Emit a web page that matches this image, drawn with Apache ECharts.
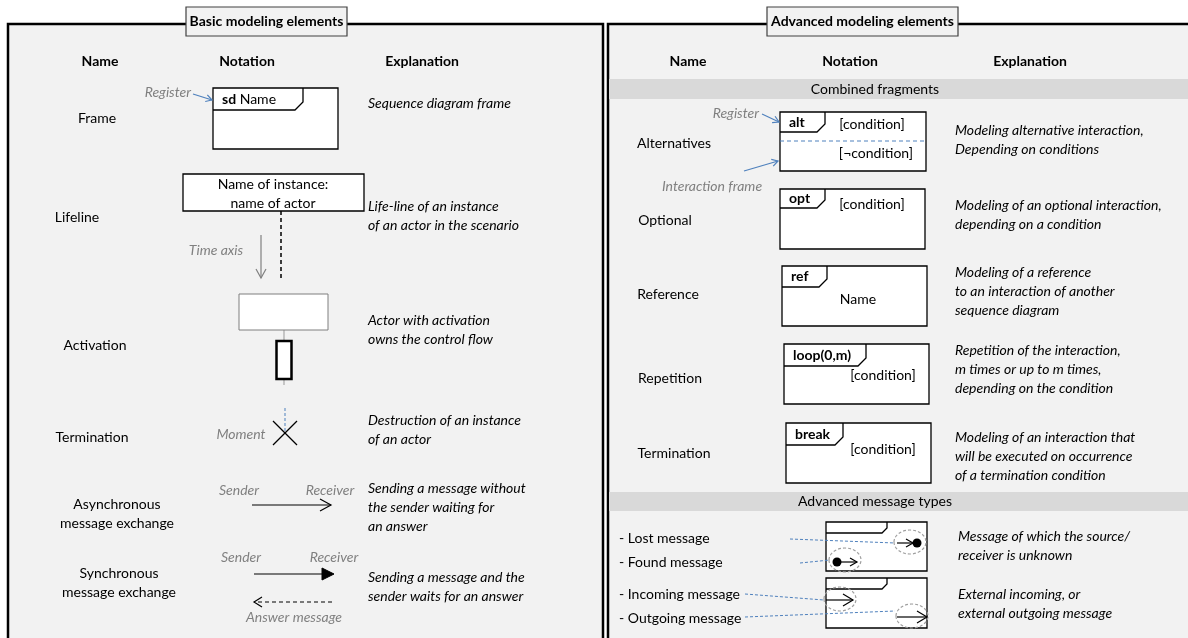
<!DOCTYPE html>
<html>
<head>
<meta charset="utf-8">
<script src="https://cdn.jsdelivr.net/npm/echarts@6/dist/echarts.min.js"></script>
<style>
  html, body { margin: 0; padding: 0; background: #fff; }
  #chart { width: 1188px; height: 638px; }
</style>
</head>
<body>
<div id="chart"></div>
<script>
// ---- content ----
const panelTitles = ['Basic modeling elements', 'Advanced modeling elements'];
const headers = ['Name', 'Notation', 'Explanation'];
const bandTitles = ['Combined fragments', 'Advanced message types'];

const basicNames = ['Frame', 'Lifeline', 'Activation', 'Termination',
  'Asynchronous\nmessage exchange', 'Synchronous\nmessage exchange'];
const basicExplanations = [
  'Sequence diagram frame',
  'Life-line of an instance\nof an actor in the scenario',
  'Actor with activation\nowns the control flow',
  'Destruction of an instance\nof an actor',
  'Sending a message without\nthe sender waiting for\nan answer',
  'Sending a message and the\nsender waits for an answer'
];

const advancedNames = ['Alternatives', 'Optional', 'Reference', 'Repetition', 'Termination'];
const fragmentOperators = ['alt', 'opt', 'ref', 'loop(0,m)', 'break'];
const fragmentTexts = ['[condition]', '[condition]', 'Name', '[condition]', '[condition]'];
const advancedExplanations = [
  'Modeling alternative interaction,\nDepending on conditions',
  'Modeling of an optional interaction,\ndepending on a condition',
  'Modeling of a reference\nto an interaction of another\nsequence diagram',
  'Repetition of the interaction,\nm times or up to m times,\ndepending on the condition',
  'Modeling of an interaction that\nwill be executed on occurrence\nof a termination condition'
];

const messageNames = ['- Lost message', '- Found message', '- Incoming message', '- Outgoing message'];
const messageExplanations = ['Message of which the source/\nreceiver is unknown',
  'External incoming, or\nexternal outgoing message'];

// ---- layout (pixel units of the hidden axes) ----
const layout = {
  headerY: 61,
  panels: [
    { x0: 8, x1: 603, tx0: 186, tx1: 347, cols: [100, 247, 422] },
    { x0: 608, x1: 1200, tx0: 767, tx1: 958, cols: [688, 850, 1030] }
  ],
  bands: [{ y0: 79, y1: 99, cx: 875 }, { y0: 492, y1: 511, cx: 875 }],
  basicName: [[97, 118], [77, 217], [95, 345], [92, 437], [117, 514], [119, 583]],
  basicExplX: 368,
  basicExplY: [103, 215.5, 329.5, 429.5, 507, 587],
  fragName: [[674, 143], [665, 220], [668, 294], [670, 378], [674, 453]],
  fragBox: [
    [780, 112, 926, 171, 45, 20], [780, 189, 925, 249, 45, 19], [782, 266, 927, 326, 45, 21],
    [784, 344, 929, 404, 82, 22], [786, 423, 931, 483, 57, 22]
  ],
  fragText: [[872, 124], [872, 204], [858, 299], [883, 375], [883, 449]],
  fragExplX: 955,
  fragExplY: [140, 214.5, 291, 369, 456],
  msgNameX: 619,
  msgNameY: [538, 562, 594, 618],
  msgBox: [[826, 522, 927, 571], [826, 578, 927, 628]],
  msgExplX: 958,
  msgExplY: [546, 604]
};

const COL = { text: '#000', gray: '#808080', blue: '#4f81bd', panel: '#f2f2f2', band: '#d9d9d9' };
const FONT = 'Lato, "Open Sans", sans-serif';

// ---- drawing helpers ----
function T(api, x, y, text, o) {
  const p = api.coord([x, y]);
  return { type: 'text', x: p[0], y: p[1], style: Object.assign({
    text: text, fill: COL.text, fontFamily: FONT, fontSize: 14, lineHeight: 19,
    align: 'center', verticalAlign: 'middle' }, o || {}) };
}
function L(api, x1, y1, x2, y2, o) {
  const a = api.coord([x1, y1]), b = api.coord([x2, y2]);
  return { type: 'line', shape: { x1: a[0], y1: a[1], x2: b[0], y2: b[1] },
    style: Object.assign({ stroke: COL.text, lineWidth: 1 }, o || {}) };
}
function R(api, x0, y0, x1, y1, o) {
  const a = api.coord([x0, y0]), b = api.coord([x1, y1]);
  return { type: 'rect', shape: { x: a[0], y: a[1], width: b[0] - a[0], height: b[1] - a[1] },
    style: Object.assign({ fill: '#fff', stroke: COL.text, lineWidth: 1 }, o || {}) };
}
function PL(api, pts, o, closed) {
  return { type: closed ? 'polygon' : 'polyline', shape: { points: pts.map(function (p) { return api.coord(p); }) },
    style: Object.assign({ fill: closed ? COL.text : null, stroke: COL.text, lineWidth: 1 }, o || {}) };
}
function EL(api, cx, cy, rx, ry) {
  const c = api.coord([cx, cy]);
  return { type: 'ellipse', shape: { cx: c[0], cy: c[1], rx: rx, ry: ry },
    style: { fill: null, stroke: '#a0a0a0', lineWidth: 1.2, lineDash: [3, 2] } };
}
function DOT(api, cx, cy, r) {
  const c = api.coord([cx, cy]);
  return { type: 'circle', shape: { cx: c[0], cy: c[1], r: r }, style: { fill: COL.text } };
}
// arrow from (x1,y1) to (x2,y2); head: 'open' (default) or 'filled'
function ARROW(api, x1, y1, x2, y2, o) {
  o = o || {};
  const color = o.color || COL.text, size = o.size || 9, wide = o.wide || 5;
  const dx = x2 - x1, dy = y2 - y1, len = Math.sqrt(dx * dx + dy * dy);
  const ux = dx / len, uy = dy / len, nx = -uy, ny = ux;
  const bx = x2 - ux * size, by = y2 - uy * size;
  const out = [];
  const end = o.head === 'filled' ? [bx, by] : [x2, y2];
  out.push(L(api, x1, y1, end[0], end[1], { stroke: color, lineWidth: o.lw || 1.2, lineDash: o.dash || null }));
  if (o.head === 'filled') {
    out.push(PL(api, [[x2, y2], [bx + nx * wide, by + ny * wide], [bx - nx * wide, by - ny * wide]], { fill: color, stroke: color }, true));
  } else {
    out.push(PL(api, [[bx + nx * wide, by + ny * wide], [x2, y2], [bx - nx * wide, by - ny * wide]], { stroke: color, lineWidth: o.lw || 1.2 }));
  }
  return out;
}
// interaction frame with its pentagon tab in the upper left corner
function FRAG(api, b, cut) {
  const x0 = b[0], y0 = b[1], x1 = b[2], y1 = b[3], tw = b[4], th = b[5];
  cut = cut || 8;
  return [
    R(api, x0, y0, x1, y1, { lineWidth: 1.3 }),
    PL(api, [[x0, y0 + th], [x0 + tw - cut, y0 + th], [x0 + tw, y0 + th - cut], [x0 + tw, y0]], { lineWidth: 1.3 })
  ];
}
const grayItalic = { fill: COL.gray, fontStyle: 'italic' };
const italicLeft = { fontStyle: 'italic', align: 'left' };

// ---- render functions ----
function renderPanel(params, api) {
  const i = params.dataIndex, p = layout.panels[i];
  const ch = [];
  ch.push(R(api, p.x0, 24, p.x1, 660, { fill: COL.panel, stroke: COL.text, lineWidth: 2.5 }));
  ch.push(R(api, p.tx0, 7, p.tx1, 36, { fill: COL.panel, stroke: '#404040', lineWidth: 1.2 }));
  ch.push(T(api, (p.tx0 + p.tx1) / 2, 21.5, panelTitles[i], { fontWeight: 'bold' }));
  headers.forEach(function (h, k) { ch.push(T(api, p.cols[k], layout.headerY, h, { fontWeight: 'bold' })); });
  return { type: 'group', children: ch };
}

function renderBand(params, api) {
  const i = params.dataIndex, b = layout.bands[i];
  return { type: 'group', children: [
    R(api, 609, b.y0, 1188, b.y1, { fill: COL.band, stroke: null, lineWidth: 0 }),
    T(api, b.cx, (b.y0 + b.y1) / 2, bandTitles[i])
  ] };
}

function renderBasic(params, api) {
  const i = params.dataIndex;
  const n = layout.basicName[i];
  let ch = [T(api, n[0], n[1], basicNames[i]),
    T(api, layout.basicExplX, layout.basicExplY[i], basicExplanations[i], italicLeft)];
  if (i === 0) {
    ch = ch.concat(FRAG(api, [213, 88, 338, 149, 90, 22]));
    ch.push(T(api, 222, 99.5, '{b|sd} Name', { align: 'left', rich: { b: { fontWeight: 'bold', fontFamily: FONT, fontSize: 14 } } }));
    ch.push(T(api, 191, 92, 'Register', Object.assign({ align: 'right' }, grayItalic)));
    ch = ch.concat(ARROW(api, 193, 94, 212, 100, { color: COL.blue, size: 6, wide: 3.5 }));
  } else if (i === 1) {
    ch.push(R(api, 183, 174, 364, 211, { lineWidth: 1.3 }));
    ch.push(T(api, 273, 193.5, 'Name of instance:\nname of actor'));
    ch.push(L(api, 281, 211, 281, 279, { lineWidth: 1.5, lineDash: [4, 3] }));
    ch.push(T(api, 216, 250, 'Time axis', grayItalic));
    ch = ch.concat(ARROW(api, 261, 235, 261, 278, { color: COL.gray, size: 9, wide: 5 }));
  } else if (i === 2) {
    ch.push(L(api, 284, 330, 284, 385, { stroke: '#999', lineWidth: 1 }));
    ch.push(R(api, 239, 294, 328, 330, { stroke: '#7f7f7f', lineWidth: 1 }));
    ch.push(R(api, 276.5, 341, 291.5, 379, { lineWidth: 2.5 }));
  } else if (i === 3) {
    ch.push(L(api, 285, 408, 285, 433, { stroke: COL.blue, lineDash: [3, 2] }));
    ch.push(L(api, 273, 421, 297, 445, { lineWidth: 1.2 }));
    ch.push(L(api, 297, 421, 273, 445, { lineWidth: 1.2 }));
    ch.push(T(api, 241, 434, 'Moment', grayItalic));
  } else if (i === 4) {
    ch.push(T(api, 239, 490, 'Sender', grayItalic));
    ch.push(T(api, 330, 490, 'Receiver', grayItalic));
    ch = ch.concat(ARROW(api, 252, 505, 331, 505, { size: 11, wide: 6 }));
  } else if (i === 5) {
    ch.push(T(api, 241, 557, 'Sender', grayItalic));
    ch.push(T(api, 334, 557, 'Receiver', grayItalic));
    ch = ch.concat(ARROW(api, 254, 574, 334, 574, { head: 'filled', size: 12, wide: 6 }));
    ch = ch.concat(ARROW(api, 332, 602, 254, 602, { size: 8, wide: 5, dash: [4, 3] }));
    ch.push(T(api, 294, 617, 'Answer message', grayItalic));
  }
  return { type: 'group', children: ch };
}

function renderFragment(params, api) {
  const i = params.dataIndex;
  const n = layout.fragName[i], b = layout.fragBox[i], t = layout.fragText[i];
  let ch = [T(api, n[0], n[1], advancedNames[i]),
    T(api, layout.fragExplX, layout.fragExplY[i], advancedExplanations[i], italicLeft)];
  ch = ch.concat(FRAG(api, b));
  ch.push(T(api, b[0] + 9, b[1] + b[5] / 2, fragmentOperators[i], { align: 'left', fontWeight: 'bold' }));
  ch.push(T(api, t[0], t[1], fragmentTexts[i]));
  if (i === 0) {
    ch.push(L(api, b[0], 141, b[2], 141, { stroke: COL.blue, lineDash: [4, 3] }));
    ch.push(T(api, 913, 153, '[\u00accondition]', { align: 'right' }));
    ch.push(T(api, 759, 113, 'Register', Object.assign({ align: 'right' }, grayItalic)));
    ch = ch.concat(ARROW(api, 762, 114, 779, 122, { color: COL.blue, size: 6, wide: 3.5 }));
    ch.push(T(api, 712, 186, 'Interaction frame', grayItalic));
    ch = ch.concat(ARROW(api, 744, 171, 778, 161, { color: COL.blue, size: 6, wide: 3.5 }));
  }
  return { type: 'group', children: ch };
}

function renderMessage(params, api) {
  const i = params.dataIndex;
  let ch = [T(api, layout.msgNameX, layout.msgNameY[i], messageNames[i], { align: 'left' })];
  const blue = { stroke: COL.blue, lineDash: [3, 2] };
  const x0 = layout.msgBox[0][0], x1 = layout.msgBox[0][2];
  if (i % 2 === 0) {
    const b = layout.msgBox[i / 2];
    ch.push(R(api, b[0], b[1], b[2], b[3], { lineWidth: 1.3 }));
    ch.push(PL(api, [[b[0], b[1] + 11], [b[0] + 56, b[1] + 11], [b[0] + 61, b[1] + 6], [b[0] + 61, b[1]]], { lineWidth: 1.3 }));
    ch.push(T(api, layout.msgExplX, layout.msgExplY[i / 2], messageExplanations[i / 2], italicLeft));
  }
  if (i === 0) {
    ch.push(L(api, 790, 539, x1 - 32, 543, blue));
    ch.push(EL(api, x1 - 17, 542, 16, 12));
    ch = ch.concat(ARROW(api, x1 - 30, 543, x1 - 14, 543, { size: 7, wide: 4 }));
    ch.push(DOT(api, x1 - 10, 543, 4.5));
  } else if (i === 1) {
    ch.push(L(api, 800, 563, x0 + 4, 560, blue));
    ch.push(EL(api, x0 + 19, 560, 16, 12));
    ch.push(DOT(api, x0 + 11, 562, 4.5));
    ch = ch.concat(ARROW(api, x0 + 13, 562, x0 + 31, 562, { size: 7, wide: 4 }));
  } else if (i === 2) {
    ch.push(L(api, 745, 594, x0 - 2, 600, blue));
    ch.push(EL(api, x0 + 14, 599, 16, 12));
    ch = ch.concat(ARROW(api, x0, 600, x0 + 27, 600, { size: 10, wide: 6 }));
  } else if (i === 3) {
    ch.push(L(api, 745, 617, x1 - 32, 611, blue));
    ch.push(EL(api, x1 - 15, 616, 16, 12));
    ch = ch.concat(ARROW(api, x1 - 30, 617, x1, 617, { size: 10, wide: 6 }));
  }
  return { type: 'group', children: ch };
}

function indices(arr) { return arr.map(function (_, k) { return [k]; }); }

const options = {
  animation: false,
  backgroundColor: '#fff',
  grid: { left: 0, right: 0, top: 0, bottom: 0 },
  xAxis: { type: 'value', min: 0, max: 1188, show: false },
  yAxis: { type: 'value', min: 0, max: 638, inverse: true, show: false },
  series: [
    { type: 'custom', name: 'panels', z: 1, clip: false, silent: true, renderItem: renderPanel, data: indices(panelTitles) },
    { type: 'custom', name: 'bands', z: 2, clip: false, silent: true, renderItem: renderBand, data: indices(bandTitles) },
    { type: 'custom', name: 'basic', z: 3, clip: false, silent: true, renderItem: renderBasic, data: indices(basicNames) },
    { type: 'custom', name: 'fragments', z: 3, clip: false, silent: true, renderItem: renderFragment, data: indices(advancedNames) },
    { type: 'custom', name: 'messages', z: 3, clip: false, silent: true, renderItem: renderMessage, data: indices(messageNames) }
  ]
};

const chart = echarts.init(document.getElementById('chart'));
chart.setOption(options);
</script>
</body>
</html>
